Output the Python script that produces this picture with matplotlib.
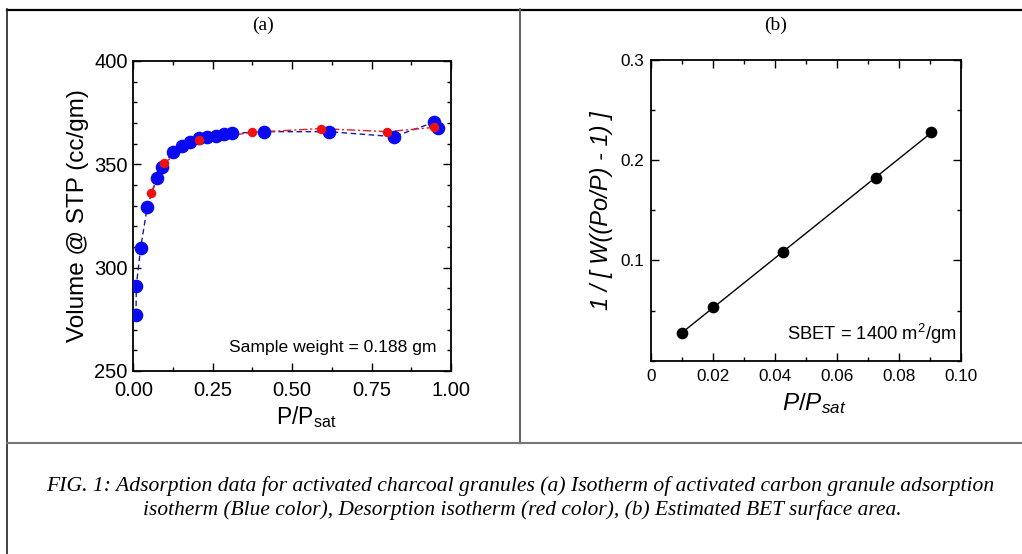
import matplotlib
matplotlib.use("Agg")
import matplotlib.pyplot as plt
from matplotlib.lines import Line2D
from matplotlib.ticker import MultipleLocator
import numpy as np

plt.rcParams['font.family'] = ['Liberation Sans', 'DejaVu Sans']
plt.rcParams['mathtext.fontset'] = 'custom'
plt.rcParams['mathtext.rm'] = 'Liberation Sans'
plt.rcParams['mathtext.it'] = 'Liberation Sans:italic'

# (a) adsorption isotherm (blue)
ads_p = [0.0085, 0.0095, 0.023, 0.044, 0.074, 0.091, 0.126, 0.152, 0.178, 0.207,
         0.233, 0.260, 0.285, 0.311, 0.41, 0.615, 0.82, 0.946, 0.96]
ads_v = [277.0, 291.3, 309.4, 329.5, 343.2, 348.6, 356.1, 359.0, 361.0, 362.9,
         363.4, 363.9, 364.7, 365.0, 365.8, 365.8, 363.4, 370.3, 367.4]

# (a) desorption isotherm (red)
des_p = [0.055, 0.097, 0.207, 0.375, 0.59, 0.80, 0.948]
des_v = [336.0, 350.8, 361.8, 365.5, 367.3, 365.8, 367.9]

# (b) BET plot
bet_p = [0.0101, 0.0202, 0.0428, 0.0726, 0.0903]
bet_y = [0.028, 0.054, 0.108, 0.182, 0.228]

W, H = 1022, 554
fig = plt.figure(figsize=(W / 100, H / 100), dpi=100)


def style_axes(ax, fs):
    ax.tick_params(which='both', direction='in', top=True, right=True,
                   labelsize=fs, width=1.0)
    ax.tick_params(which='major', length=6)
    ax.tick_params(which='minor', length=3)
    for s in ax.spines.values():
        s.set_linewidth(1.3)


# panel (a)
ax1 = fig.add_axes([133.3 / W, 1 - 371 / H, 317.7 / W, 310 / H])
ax1.plot(ads_p, ads_v, color='#1a1aa0', ls=(0, (4, 2.5)), lw=1.0, zorder=2)
ax1.plot(des_p, des_v, color='#e02020', ls=(0, (6, 2, 1.5, 2)), lw=1.0, zorder=2)
ax1.plot(ads_p, ads_v, 'o', color='#0a0af0', ms=8.8, zorder=3)
ax1.plot(des_p, des_v, 'o', color='#f01010', ms=5.8, zorder=4)
ax1.set_xlim(0, 1)
ax1.set_ylim(250, 400)
ax1.set_xticks([0, 0.25, 0.5, 0.75, 1.0])
ax1.set_xticklabels(['0.00', '0.25', '0.50', '0.75', '1.00'])
ax1.set_yticks([250, 300, 350, 400])
ax1.xaxis.set_minor_locator(MultipleLocator(0.125))
ax1.yaxis.set_minor_locator(MultipleLocator(10))
style_axes(ax1, 14.5)
ax1.tick_params(axis='x', pad=7)
ax1.tick_params(axis='y', pad=4)
ax1.set_xlabel(r'P/P$_{\mathrm{sat}}$', fontsize=16.5)
ax1.xaxis.set_label_coords(0.545, -0.106, transform=ax1.transAxes)
ax1.set_ylabel('Volume @ STP (cc/gm)', fontsize=17.5)
ax1.yaxis.set_label_coords(-0.141, 0.5, transform=ax1.transAxes)
ax1.text(0.955, 0.075, 'Sample weight = 0.188 gm', transform=ax1.transAxes,
         ha='right', va='center', fontsize=12.6)

# panel (b)
ax2 = fig.add_axes([650.7 / W, 1 - 360.7 / H, 310 / W, 300.7 / H])
k, b = np.polyfit(bet_p, bet_y, 1)
xs = np.array([bet_p[0], bet_p[-1]])
ax2.plot(xs, k * xs + b, color='black', lw=1.0, zorder=2)
ax2.plot(bet_p, bet_y, 'o', color='black', ms=7.4, zorder=3)
ax2.set_xlim(0, 0.1)
ax2.set_ylim(0, 0.3)
ax2.set_xticks([0, 0.02, 0.04, 0.06, 0.08, 0.10])
ax2.set_xticklabels(['0', '0.02', '0.04', '0.06', '0.08', '0.10'])
ax2.set_yticks([0.1, 0.2, 0.3])
ax2.set_yticklabels(['0.1', '0.2', '0.3'])
ax2.xaxis.set_minor_locator(MultipleLocator(0.01))
ax2.yaxis.set_minor_locator(MultipleLocator(0.05))
style_axes(ax2, 12.3)
ax2.tick_params(axis='x', pad=6)
ax2.tick_params(axis='y', pad=5)
ax2.set_xlabel(r'$P/P_{sat}$', fontsize=17.5)
ax2.xaxis.set_label_coords(0.527, -0.10, transform=ax2.transAxes)
ax2.set_ylabel('1 / [ W((Po/P) - 1) ]', fontsize=17, style='italic')
ax2.yaxis.set_label_coords(-0.121, 0.5, transform=ax2.transAxes)
ax2.text(0.985, 0.09, r'SBET = 1400 m$^2$/gm', transform=ax2.transAxes,
         ha='right', va='center', fontsize=13.2)

# panel letters
fig.text(263 / W, 1 - 25 / H, '(a)', family='Liberation Serif', fontsize=14,
         ha='center', va='center')
fig.text(776 / W, 1 - 25 / H, '(b)', family='Liberation Serif', fontsize=14,
         ha='center', va='center')

# caption
fig.text(520 / W, 1 - 486 / H,
         'FIG. 1: Adsorption data for activated charcoal granules (a) Isotherm of '
         'activated carbon granule adsorption',
         family='Liberation Serif', style='italic', fontsize=15.6,
         ha='center', va='center')
fig.text(522 / W, 1 - 510 / H,
         'isotherm (Blue color), Desorption isotherm (red color), (b) Estimated '
         'BET surface area.',
         family='Liberation Serif', style='italic', fontsize=15.4,
         ha='center', va='center')

# table frame
def hline(y, x0, x1, color, lw):
    fig.add_artist(Line2D([x0 / W, x1 / W], [1 - y / H, 1 - y / H],
                          color=color, lw=lw))


def vline(x, y0, y1, color, lw):
    fig.add_artist(Line2D([x / W, x / W], [1 - y0 / H, 1 - y1 / H],
                          color=color, lw=lw))


hline(9.5, 6.5, W, 'black', 1.6)
vline(7, 9, H, '#222222', 1.2)
vline(520, 9, 443, '#666666', 1.5)
hline(443, 6.5, W, '#777777', 1.5)

fig.savefig('out.png', dpi=100)
